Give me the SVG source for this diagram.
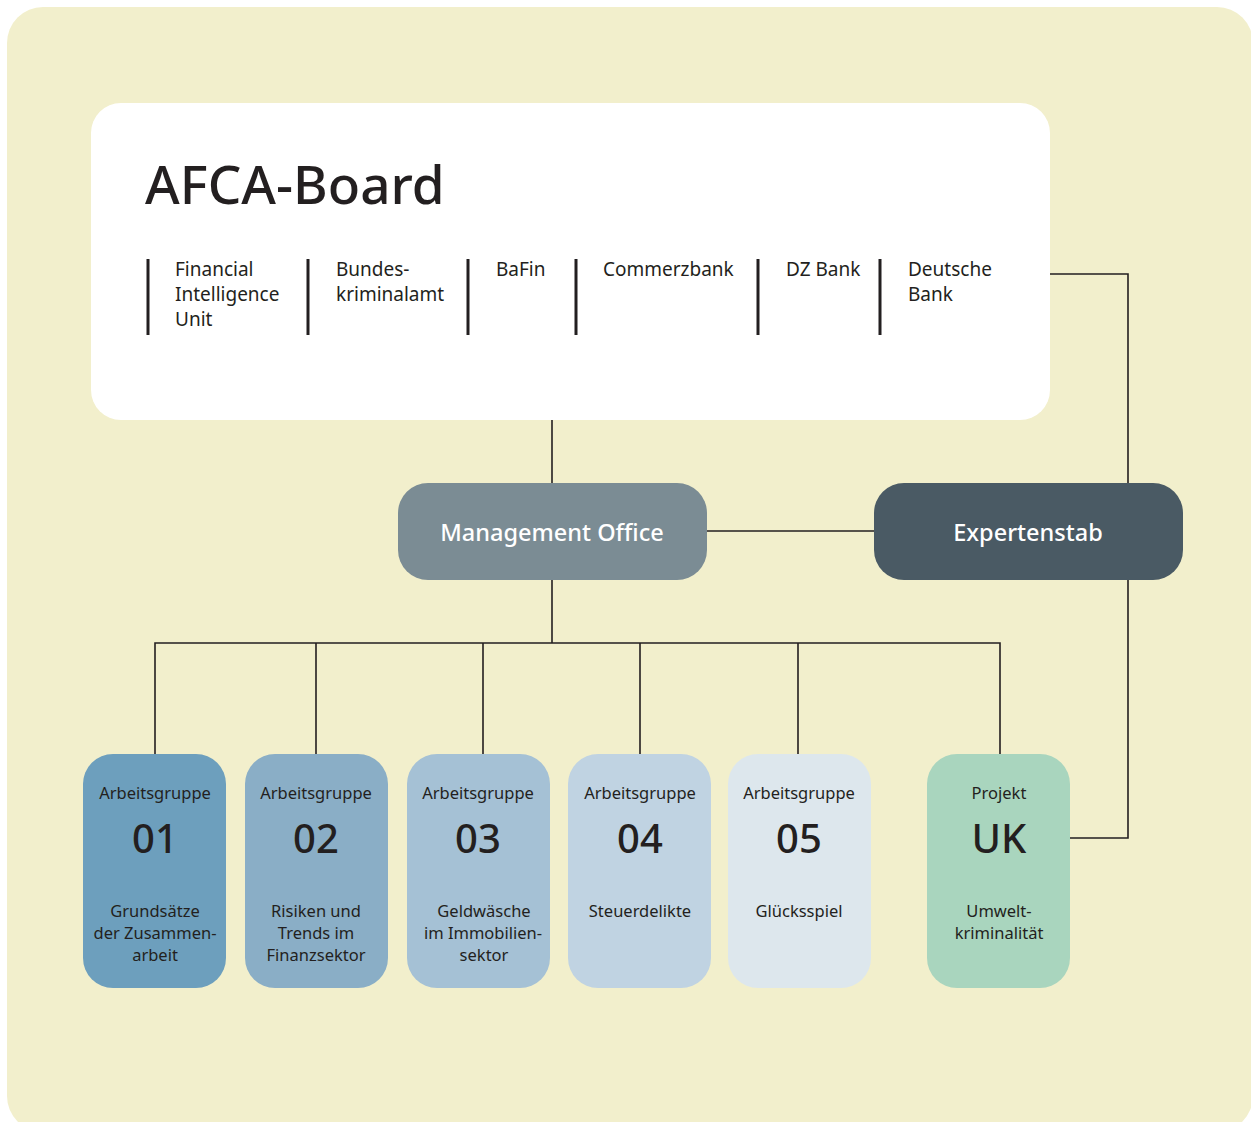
<svg xmlns="http://www.w3.org/2000/svg" width="1251" height="1122" viewBox="0 0 1251 1122">
<style>
text{font-family:"Noto Sans","Open Sans","DejaVu Sans",sans-serif;fill:#231f20}
.m{font-size:19px}
.ag{font-size:16.5px;text-anchor:middle}
.num{font-size:40px;text-anchor:middle;font-weight:500}
.d{font-size:16.5px;text-anchor:middle}
.w{fill:#ffffff;font-size:23.5px;text-anchor:middle;font-weight:500}
.c{stroke:#231f20;stroke-width:1.6;fill:none}
.bar{stroke:#231f20;stroke-width:3}
</style>
<rect x="7" y="7" width="1246" height="1125" rx="36" fill="#f2efcc"/>
<g id="connectors">
<path class="c" d="M552,420V483"/>
<path class="c" d="M707,531H874"/>
<path class="c" d="M1050,274H1128V483"/>
<path class="c" d="M1128,580V838H1070"/>
<path class="c" d="M552,580V643"/>
<path class="c" d="M155,754V643H1000V754"/>
<path class="c" d="M316,643V754M483,643V754M640,643V754M798,643V754"/>
</g>
<g id="afca-board">
<rect x="91" y="103" width="959" height="317" rx="30" fill="#ffffff"/>
<text x="145" y="204" font-size="53" font-weight="500">AFCA-Board</text>
<path class="bar" d="M148,259V335M308,259V335M468,259V335M576,259V335M758,259V335M880,259V335"/>
<text class="m" x="175" y="276">Financial</text>
<text class="m" x="175" y="301">Intelligence</text>
<text class="m" x="175" y="326">Unit</text>
<text class="m" x="336" y="276">Bundes-</text>
<text class="m" x="336" y="301">kriminalamt</text>
<text class="m" x="496" y="276">BaFin</text>
<text class="m" x="603" y="276">Commerzbank</text>
<text class="m" x="786" y="276">DZ Bank</text>
<text class="m" x="908" y="276">Deutsche</text>
<text class="m" x="908" y="301">Bank</text>
</g>
<g id="management-office">
<rect x="398" y="483" width="309" height="97" rx="30" fill="#7b8c94"/>
<text class="w" x="552" y="541">Management Office</text>
</g>
<g id="expertenstab">
<rect x="874" y="483" width="309" height="97" rx="30" fill="#4a5a64"/>
<text class="w" x="1028" y="541">Expertenstab</text>
</g>
<g id="ag01">
<rect x="83" y="754" width="143" height="234" rx="30" fill="#6d9fbd"/>
<text class="ag" x="155" y="799">Arbeitsgruppe</text>
<text class="num" x="155" y="853">01</text>
<text class="d" x="155" y="917">Grundsätze</text>
<text class="d" x="155" y="939">der Zusammen-</text>
<text class="d" x="155" y="961">arbeit</text>
</g>
<g id="ag02">
<rect x="245" y="754" width="143" height="234" rx="30" fill="#8aaec6"/>
<text class="ag" x="316" y="799">Arbeitsgruppe</text>
<text class="num" x="316" y="853">02</text>
<text class="d" x="316" y="917">Risiken und</text>
<text class="d" x="316" y="939">Trends im</text>
<text class="d" x="316" y="961">Finanzsektor</text>
</g>
<g id="ag03">
<rect x="407" y="754" width="143" height="234" rx="30" fill="#a5c1d5"/>
<text class="ag" x="478" y="799">Arbeitsgruppe</text>
<text class="num" x="478" y="853">03</text>
<text class="d" x="484" y="917">Geldwäsche</text>
<text class="d" x="483" y="939">im Immobilien-</text>
<text class="d" x="484" y="961">sektor</text>
</g>
<g id="ag04">
<rect x="568" y="754" width="143" height="234" rx="30" fill="#c0d3e2"/>
<text class="ag" x="640" y="799">Arbeitsgruppe</text>
<text class="num" x="640" y="853">04</text>
<text class="d" x="640" y="917">Steuerdelikte</text>
</g>
<g id="ag05">
<rect x="728" y="754" width="143" height="234" rx="30" fill="#dde7ed"/>
<text class="ag" x="799" y="799">Arbeitsgruppe</text>
<text class="num" x="799" y="853">05</text>
<text class="d" x="799" y="917">Glücksspiel</text>
</g>
<g id="projekt-uk">
<rect x="927" y="754" width="143" height="234" rx="30" fill="#a9d5be"/>
<text class="ag" x="999" y="799">Projekt</text>
<text class="num" x="999" y="853">UK</text>
<text class="d" x="999" y="917">Umwelt-</text>
<text class="d" x="999" y="939">kriminalität</text>
</g>
</svg>
